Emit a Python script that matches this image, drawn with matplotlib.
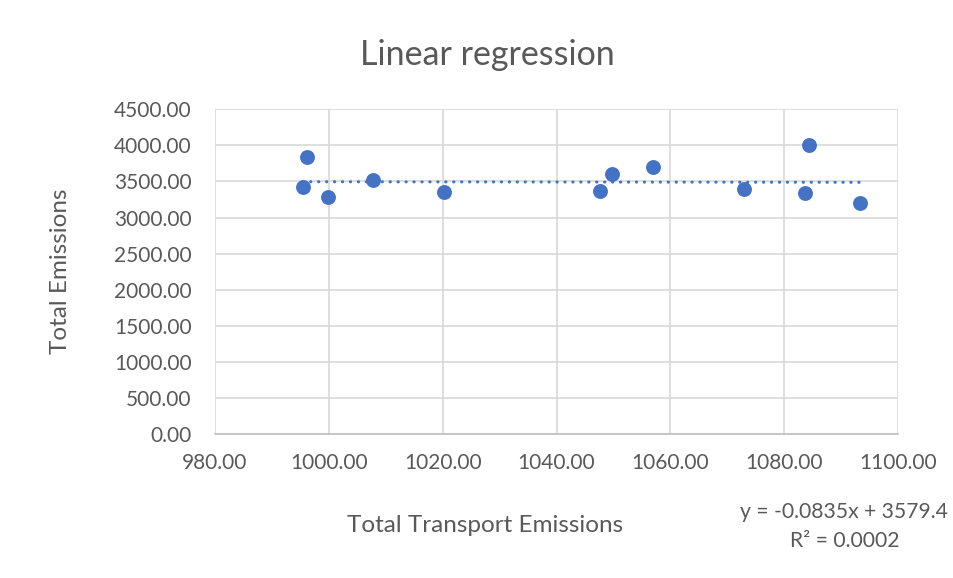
import matplotlib.pyplot as plt
import numpy as np

# data
transport = [996.2, 995.4, 999.9, 1007.7, 1020.2, 1047.6, 1049.7, 1057.0, 1073.0, 1084.3, 1083.7, 1093.3]
total = [3834, 3427, 3289, 3520, 3350, 3368, 3607, 3700, 3399, 4009, 3336, 3205]
slope = -0.0835
intercept = 3579.4
r2 = 0.0002

xticks = [980, 1000, 1020, 1040, 1060, 1080, 1100]
yticks = [0, 500, 1000, 1500, 2000, 2500, 3000, 3500, 4000, 4500]

blue = '#4472C4'
grey = '#595959'
plt.rcParams['font.family'] = ['Lato', 'DejaVu Sans']

fig = plt.figure(figsize=(9.54, 5.78), dpi=100)
ax = fig.add_axes([0.2254, 0.2491, 0.7159, 0.5618])

ax.scatter(transport, total, s=115, color=blue, zorder=3, linewidths=0)

xs = np.array([min(transport), max(transport)])
ax.plot(xs, slope * xs + intercept, color=blue, linewidth=2.2,
        linestyle=(0, (0.1, 2.5)), dash_capstyle='round', zorder=2)

ax.set_xlim(980, 1100)
ax.set_ylim(0, 4500)
ax.set_xticks(xticks)
ax.set_yticks(yticks)
ax.set_xticklabels(['%.2f' % v for v in xticks])
ax.set_yticklabels(['%.2f' % v for v in yticks])
ax.tick_params(length=0, labelsize=15, colors=grey)
ax.tick_params(axis='y', pad=17)
ax.tick_params(axis='x', pad=14)
ax.grid(True, color='#d9d9d9', linewidth=1.2)
ax.set_axisbelow(True)
for s in ['top', 'right', 'left']:
    ax.spines[s].set_visible(False)
ax.spines['bottom'].set_color('#bfbfbf')
ax.spines['bottom'].set_linewidth(1.2)

fig.text(0.511, 0.905, 'Linear regression', ha='center', va='center', fontsize=24.5, color=grey)
fig.text(0.063, 0.53, 'Total Emissions', rotation=90, ha='center', va='center', fontsize=17.5, color=grey)
fig.text(0.508, 0.09, 'Total Transport Emissions', ha='center', va='center', fontsize=17.5, color=grey)
fig.text(0.885, 0.114, 'y = %.4fx + %.1f' % (slope, intercept), ha='center', va='center', fontsize=15.2, color=grey)
fig.text(0.885, 0.064, 'R² = %.4f' % r2, ha='center', va='center', fontsize=15.2, color=grey)

fig.savefig('out.png', dpi=100)
